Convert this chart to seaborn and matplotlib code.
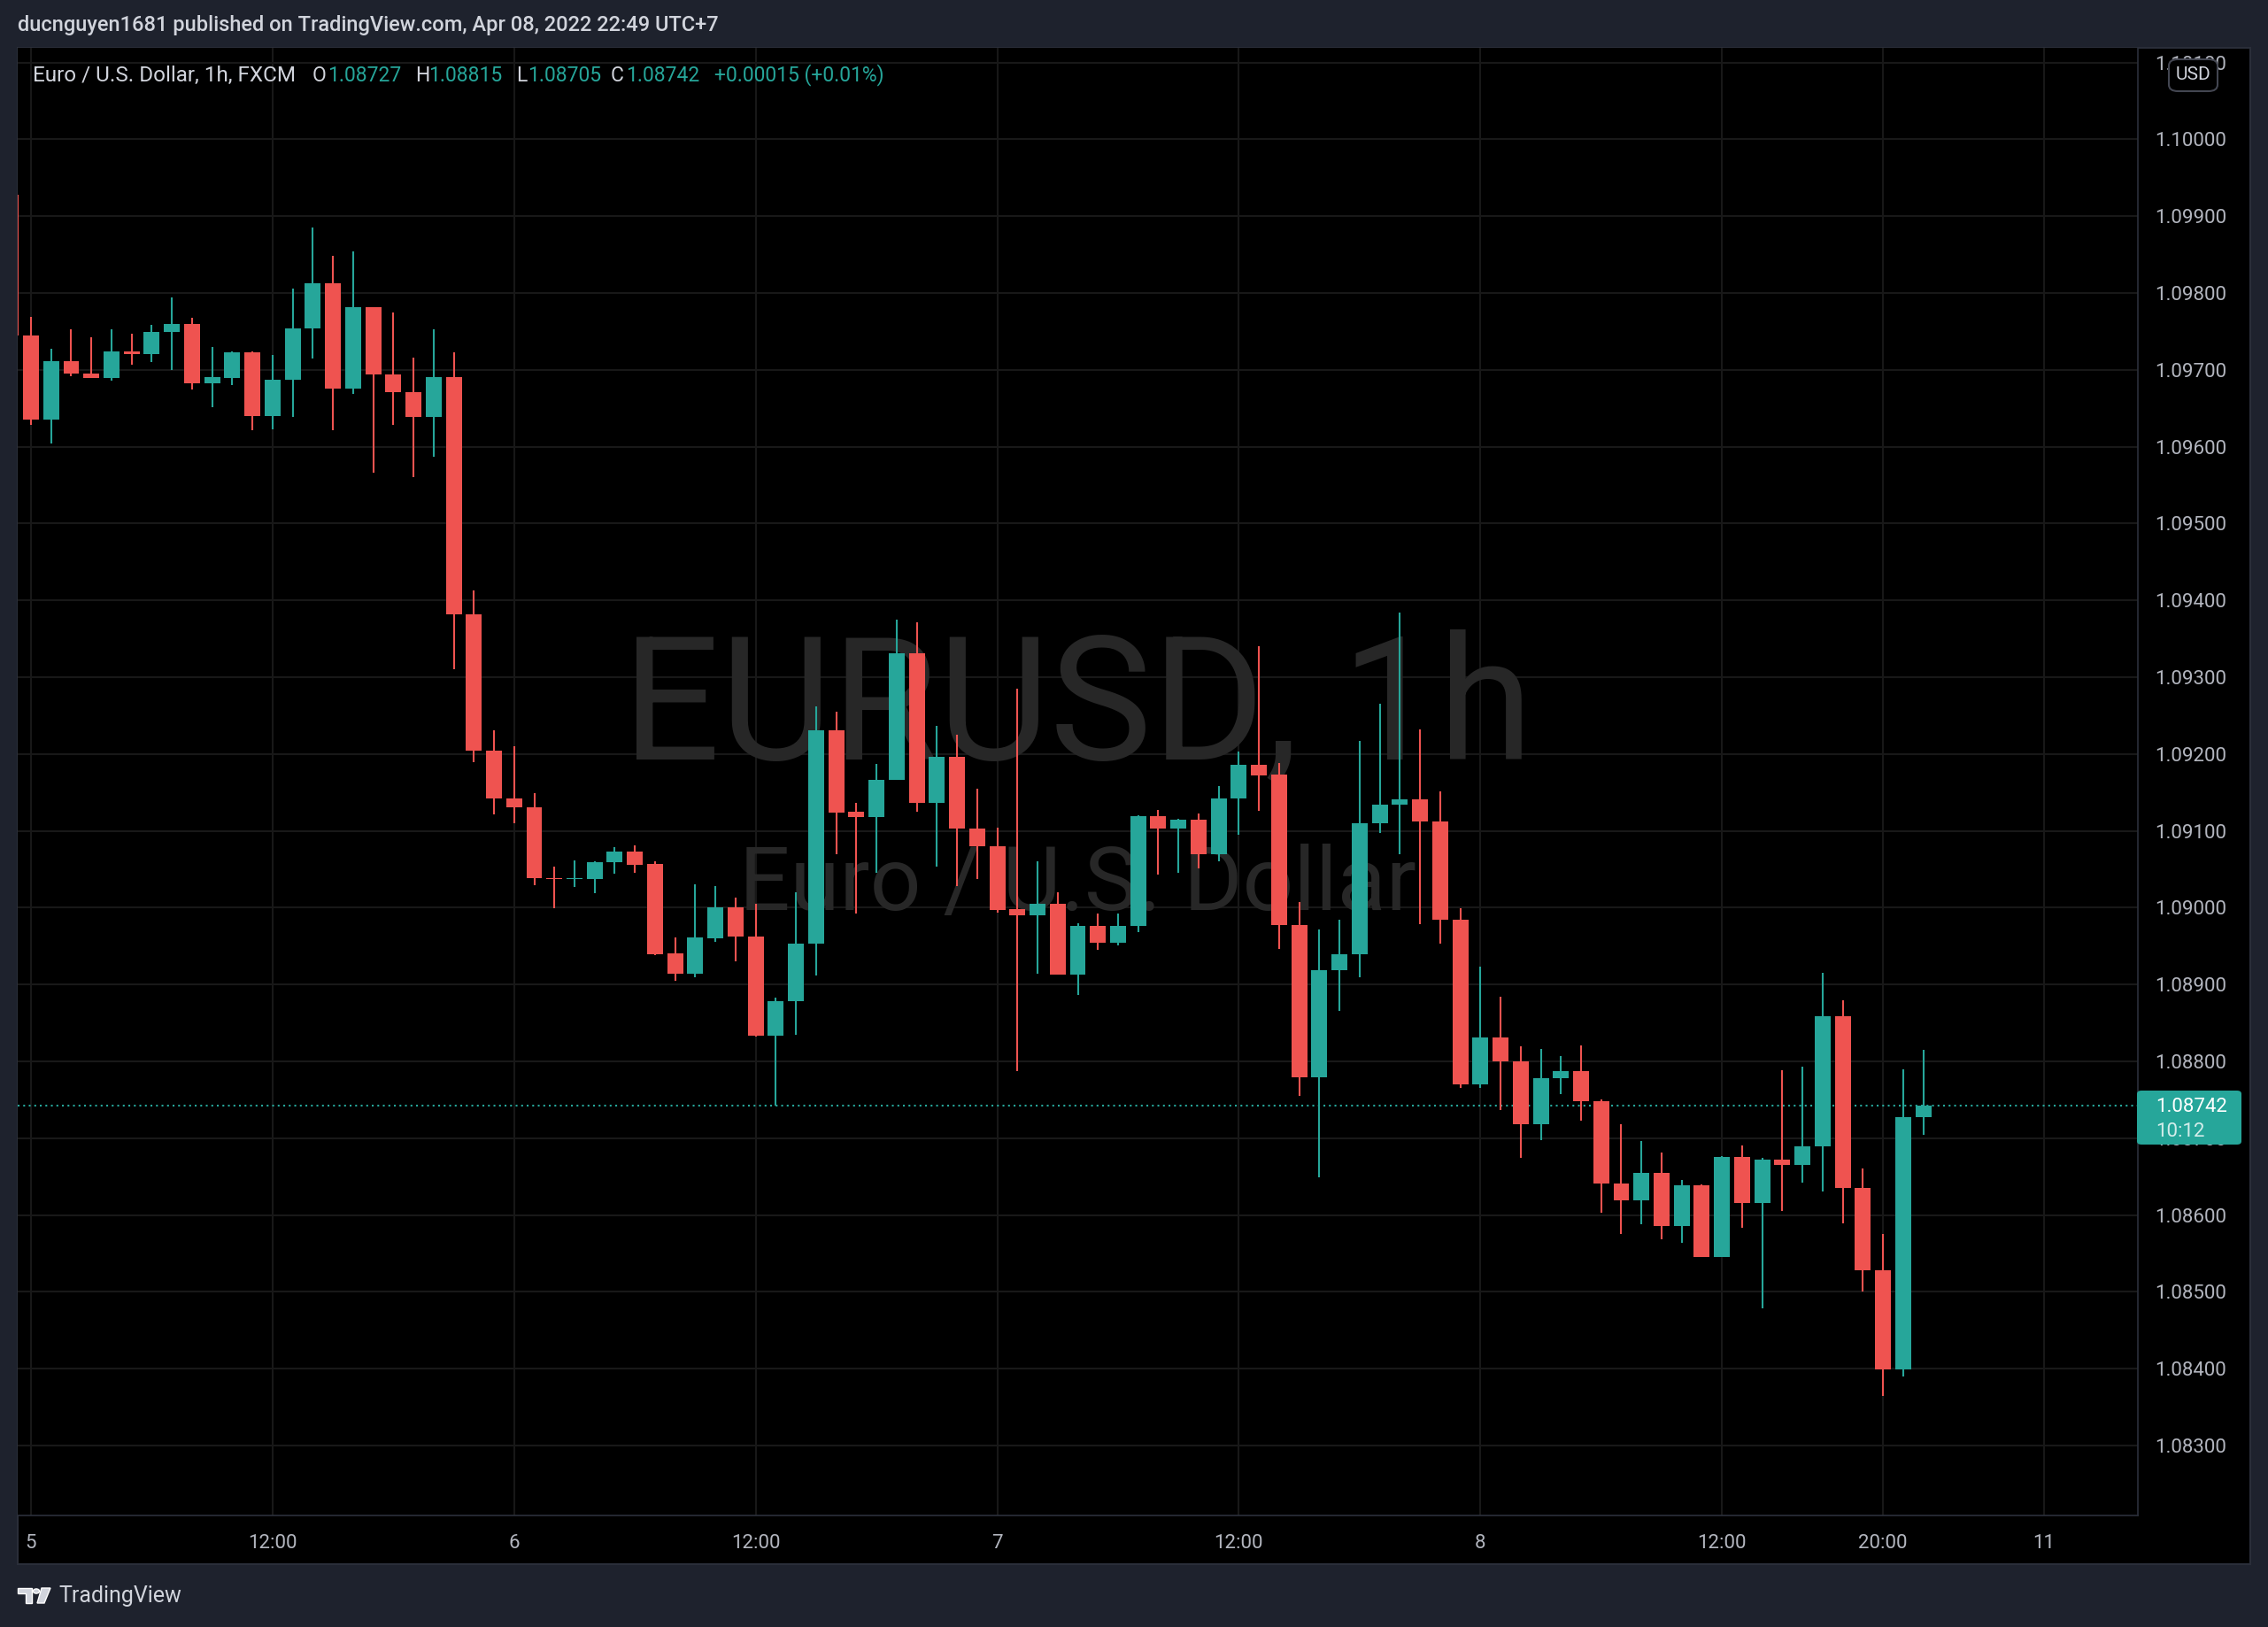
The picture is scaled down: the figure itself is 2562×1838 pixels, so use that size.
import numpy as np
import pandas as pd
import matplotlib
matplotlib.use("Agg")
import matplotlib.pyplot as plt
from matplotlib.patches import Rectangle, FancyBboxPatch, Polygon, Circle
import seaborn as sns

# hourly EUR/USD candles, Apr 5 00:00 -> Apr 8 22:00 (index -1 is the clipped one at the left edge)
opens = [1.09928,
         1.09745, 1.09635, 1.09711, 1.09695, 1.09689, 1.09724, 1.09721, 1.09749, 1.09760, 1.09682,
         1.09690, 1.09723, 1.09640, 1.09687, 1.09754, 1.09813, 1.09676, 1.09782, 1.09694, 1.09671,
         1.09639, 1.09691, 1.09382, 1.09204, 1.09142, 1.09131, 1.09039, 1.09037, 1.09038, 1.09059,
         1.09073, 1.09057, 1.08941, 1.08914, 1.08960, 1.09001, 1.08962, 1.08833, 1.08879, 1.08953,
         1.09231, 1.09125, 1.09118, 1.09166, 1.09331, 1.09136, 1.09196, 1.09103, 1.09080, 1.08998,
         1.08990, 1.09005, 1.08913, 1.08976, 1.08954, 1.08976, 1.09119, 1.09103, 1.09115, 1.09070,
         1.09142, 1.09186, 1.09173, 1.08978, 1.08779, 1.08919, 1.08939, 1.09110, 1.09134, 1.09141,
         1.09112, 1.08984, 1.08770, 1.08831, 1.08800, 1.08718, 1.08778, 1.08787, 1.08748, 1.08641,
         1.08619, 1.08655, 1.08586, 1.08639, 1.08546, 1.08676, 1.08616, 1.08672, 1.08665, 1.08689,
         1.08859, 1.08635, 1.08528, 1.08399, 1.08727]
highs = [1.09935,
         1.09769, 1.09728, 1.09753, 1.09743, 1.09753, 1.09747, 1.09759, 1.09794, 1.09768, 1.09730,
         1.09724, 1.09724, 1.09720, 1.09806, 1.09885, 1.09849, 1.09854, 1.09782, 1.09775, 1.09716,
         1.09753, 1.09723, 1.09413, 1.09231, 1.09210, 1.09149, 1.09053, 1.09062, 1.09060, 1.09079,
         1.09081, 1.09060, 1.08961, 1.09031, 1.09028, 1.09013, 1.09005, 1.08883, 1.09020, 1.09262,
         1.09255, 1.09136, 1.09187, 1.09375, 1.09372, 1.09237, 1.09225, 1.09155, 1.09104, 1.09285,
         1.09061, 1.09020, 1.08980, 1.08993, 1.08992, 1.09120, 1.09127, 1.09116, 1.09123, 1.09158,
         1.09203, 1.09340, 1.09188, 1.09007, 1.08972, 1.08985, 1.09217, 1.09266, 1.09384, 1.09232,
         1.09151, 1.08999, 1.08923, 1.08884, 1.08820, 1.08816, 1.08807, 1.08821, 1.08751, 1.08718,
         1.08696, 1.08681, 1.08646, 1.08640, 1.08677, 1.08691, 1.08674, 1.08789, 1.08793, 1.08915,
         1.08880, 1.08661, 1.08576, 1.08790, 1.08815]
lows = [1.09720,
        1.09629, 1.09604, 1.09692, 1.09689, 1.09686, 1.09707, 1.09710, 1.09700, 1.09675, 1.09652,
        1.09680, 1.09622, 1.09623, 1.09639, 1.09715, 1.09622, 1.09669, 1.09566, 1.09628, 1.09561,
        1.09587, 1.09311, 1.09190, 1.09122, 1.09110, 1.09029, 1.08999, 1.09027, 1.09019, 1.09044,
        1.09045, 1.08938, 1.08905, 1.08909, 1.08956, 1.08930, 1.08832, 1.08743, 1.08835, 1.08912,
        1.09070, 1.08992, 1.09045, 1.09166, 1.09125, 1.09054, 1.09028, 1.09037, 1.08994, 1.08787,
        1.08914, 1.08913, 1.08887, 1.08945, 1.08951, 1.08968, 1.09043, 1.09045, 1.09051, 1.09061,
        1.09095, 1.09126, 1.08946, 1.08755, 1.08649, 1.08866, 1.08909, 1.09097, 1.09070, 1.08979,
        1.08953, 1.08766, 1.08765, 1.08737, 1.08675, 1.08697, 1.08757, 1.08723, 1.08603, 1.08576,
        1.08588, 1.08568, 1.08564, 1.08545, 1.08545, 1.08584, 1.08479, 1.08605, 1.08642, 1.08631,
        1.08589, 1.08500, 1.08365, 1.08390, 1.08705]
closes = [1.09745,
          1.09635, 1.09711, 1.09695, 1.09689, 1.09724, 1.09721, 1.09749, 1.09760, 1.09682, 1.09691,
          1.09723, 1.09640, 1.09687, 1.09754, 1.09813, 1.09676, 1.09782, 1.09694, 1.09671, 1.09639,
          1.09691, 1.09382, 1.09204, 1.09142, 1.09131, 1.09039, 1.09037, 1.09039, 1.09059, 1.09073,
          1.09056, 1.08940, 1.08914, 1.08961, 1.09001, 1.08962, 1.08833, 1.08879, 1.08953, 1.09231,
          1.09124, 1.09118, 1.09166, 1.09331, 1.09136, 1.09196, 1.09103, 1.09080, 1.08997, 1.08990,
          1.09005, 1.08913, 1.08976, 1.08954, 1.08976, 1.09119, 1.09103, 1.09115, 1.09070, 1.09142,
          1.09186, 1.09172, 1.08978, 1.08779, 1.08919, 1.08939, 1.09110, 1.09134, 1.09141, 1.09112,
          1.08984, 1.08770, 1.08831, 1.08800, 1.08718, 1.08778, 1.08787, 1.08748, 1.08641, 1.08619,
          1.08655, 1.08586, 1.08639, 1.08546, 1.08676, 1.08616, 1.08672, 1.08665, 1.08689, 1.08859,
          1.08635, 1.08528, 1.08399, 1.08727, 1.08742]

last_price = 1.08742
price_ticks = [1.083, 1.084, 1.085, 1.086, 1.087, 1.088, 1.089, 1.090, 1.091, 1.092,
               1.093, 1.094, 1.095, 1.096, 1.097, 1.098, 1.099, 1.100, 1.101]
time_ticks = [0, 12, 24, 36, 48, 60, 72, 84, 92, 100]
time_labels = ["5", "12:00", "6", "12:00", "7", "12:00", "8", "12:00", "20:00", "11"]

df = pd.DataFrame({"o": opens, "h": highs, "l": lows, "c": closes})
df["x"] = np.arange(len(df)) - 1

UP = "#26a69a"
DOWN = "#ef5350"
BG = "#1e222d"
GRID = "#181818"
TXT = "#b2b5be"

sns.set_theme(style="dark")
plt.rcParams["font.family"] = ["Roboto", "DejaVu Sans"]

W, H = 2562, 1838
fig = plt.figure(figsize=(W / 100, H / 100), dpi=100, facecolor=BG)


def fx(px):
    return px / W


def fy(py):
    return 1 - py / H


# black chart panel (plot + both axis strips), kept behind the axes
fig.patches.append(Rectangle((fx(20), fy(1767)), fx(2542) - fx(20), fy(54) - fy(1767),
                             transform=fig.transFigure, facecolor="black",
                             edgecolor="#2a2e39", lw=1.5, zorder=-5))

ax = fig.add_axes([fx(20), fy(1712), fx(2415) - fx(20), fy(54) - fy(1712)])
ax.set_zorder(1)
ax.set_facecolor("black")
for s in ax.spines.values():
    s.set_visible(False)
ax.spines["right"].set_visible(True)
ax.spines["right"].set_color("#2a2e39")
ax.spines["bottom"].set_visible(True)
ax.spines["bottom"].set_color("#2a2e39")

ax.set_xlim(-0.66, 104.66)
ax.set_ylim(1.082091, 1.101192)

ax.set_yticks(price_ticks)
ax.set_yticklabels([f"{t:.5f}" for t in price_ticks])
ax.yaxis.tick_right()
ax.set_xticks(time_ticks)
ax.set_xticklabels(time_labels)
ax.tick_params(axis="y", length=0, pad=14, labelsize=16, labelcolor=TXT)
ax.tick_params(axis="x", length=0, pad=15, labelsize=16, labelcolor=TXT)
ax.grid(True, color=GRID, lw=1.5)
ax.set_axisbelow(True)

# watermark, centred on the plot area
ax.text(fx(1217.5), fy(804), "EURUSD, 1h", transform=fig.transFigure, ha="center",
        va="center", fontsize=140, color="#272727", zorder=1)
ax.text(fx(1217.5), fy(1000), "Euro / U.S. Dollar", transform=fig.transFigure, ha="center",
        va="center", fontsize=73, color="#272727", zorder=1)

colors = np.where(df["c"] >= df["o"], UP, DOWN)
ax.vlines(df["x"], df["l"], df["h"], colors=colors, lw=1.5, zorder=3)
body = np.maximum((df["c"] - df["o"]).abs(), 0.00002)
ax.bar(df["x"], body, bottom=np.minimum(df["o"], df["c"]), width=0.79,
       color=colors, linewidth=0, zorder=4)

ax.axhline(last_price, color=UP, lw=1.5, ls=(0, (1, 2)), zorder=2)

# header
fig.text(fx(20), fy(29), "ducnguyen1681 published on TradingView.com, Apr 08, 2022 22:49 UTC+7",
         ha="left", va="center", fontsize=17, color="#d1d4dc", fontweight="medium")

legend = [(37, "Euro / U.S. Dollar, 1h, FXCM", "#d1d4dc", 17.5),
          (353, "O", "#d1d4dc", 16.5), (370, "1.08727", UP, 16.5),
          (469, "H", "#d1d4dc", 16.5), (484, "1.08815", UP, 16.5),
          (583, "L", "#d1d4dc", 16.5), (596, "1.08705", UP, 16.5),
          (690, "C", "#d1d4dc", 16.5), (707, "1.08742", UP, 16.5),
          (807, "+0.00015 (+0.01%)", UP, 16.5)]
for x0, s, col, fs in legend:
    fig.text(fx(x0), fy(85), s, ha="left", va="center", fontsize=fs, color=col, zorder=6)

# last price tag
fig.patches.append(FancyBboxPatch((fx(2414), fy(1293)), fx(2532) - fx(2414), fy(1232) - fy(1293),
                                  boxstyle="round,pad=0,rounding_size=0.002",
                                  transform=fig.transFigure, facecolor=UP, edgecolor="none",
                                  zorder=5))
fig.text(fx(2435), fy(1251), f"{last_price:.5f}", ha="left", va="center", fontsize=16,
         color="white", zorder=6)
fig.text(fx(2435), fy(1278), "10:12", ha="left", va="center", fontsize=16,
         color="white", alpha=0.8, zorder=6)

# currency badge
fig.patches.append(FancyBboxPatch((fx(2450), fy(103)), fx(2505) - fx(2450), fy(67) - fy(103),
                                  boxstyle="round,pad=0,rounding_size=0.004",
                                  transform=fig.transFigure, facecolor="black",
                                  edgecolor="#434651", lw=1.5, zorder=5))
fig.text(fx(2477.5), fy(85), "USD", ha="center", va="center", fontsize=15,
         color="#d1d4dc", zorder=6)

# footer logo
logo = "#d1d4dc"
fig.patches.append(Polygon([[fx(20), fy(1794)], [fx(36), fy(1794)], [fx(36), fy(1811)],
                            [fx(29), fy(1811)], [fx(29), fy(1800)], [fx(20), fy(1800)]],
                           closed=True, transform=fig.transFigure, facecolor=logo, zorder=5))
fig.patches.append(Circle((fx(41), fy(1797.5)), 3.6 / W, transform=fig.transFigure,
                          facecolor=logo, zorder=5))
fig.patches.append(Polygon([[fx(47), fy(1794)], [fx(57), fy(1794)], [fx(50), fy(1811)],
                            [fx(42), fy(1811)]], closed=True, transform=fig.transFigure,
                           facecolor=logo, zorder=5))
fig.text(fx(66), fy(1803), "TradingView", ha="left", va="center", fontsize=18,
         color=logo)

fig.savefig("out.png", dpi=100, facecolor=BG)
